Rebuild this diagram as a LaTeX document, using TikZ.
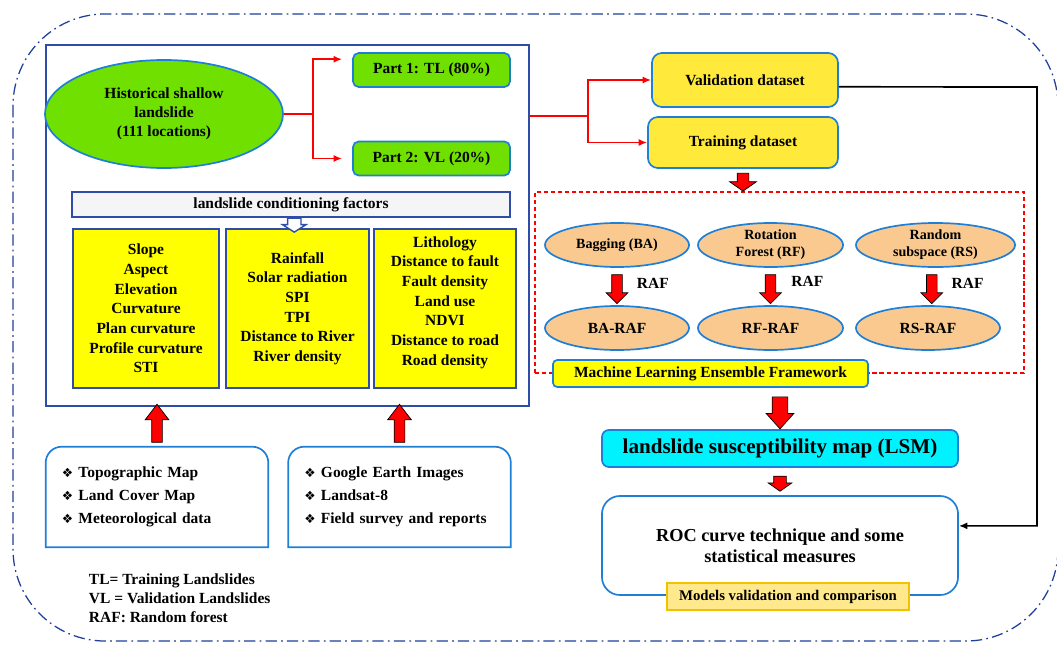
\documentclass[tikz,border=0pt]{standalone}
\usepackage{fontspec}
\setmainfont{Liberation Serif}
\newfontfamily\symfont{DejaVu Sans}
\usepackage{xcolor}
\usepackage{tikz}
\usetikzlibrary{positioning, arrows.meta, calc, shapes.geometric, shapes.arrows}
\definecolor{frameB}{HTML}{1F3F99}
\definecolor{mainB}{HTML}{2F4DA8}
\definecolor{lineB}{HTML}{1E7FD8}
\definecolor{histG}{HTML}{6FE000}
\definecolor{factY}{HTML}{FFFF00}
\definecolor{dataY}{HTML}{FFE93B}
\definecolor{ensO}{HTML}{F9C98F}
\definecolor{lsmC}{HTML}{00F2FF}
\definecolor{evalY}{HTML}{FFE98C}
\definecolor{evalB}{HTML}{F2C200}
\definecolor{condG}{HTML}{F5F5F5}
\newcommand{\itm}{{\symfont\small ❖}\ }

\begin{document}
\begin{tikzpicture}[x=0.025cm, y=-0.025cm, every node/.style={font=\fontsize{11}{13.5}\selectfont\bfseries}, outer/.style={draw=frameB, line width=0.9pt, rounded corners=2.3cm, dash pattern=on 8pt off 3pt on 1.2pt off 3pt}, mainbox/.style={draw=mainB, line width=1.2pt}, histell/.style={ellipse, draw=lineB, line width=1.2pt, fill=histG, inner sep=0pt, align=center}, partbox/.style={draw=lineB, line width=1.2pt, fill=histG, rounded corners=4pt, minimum width=3.925cm, minimum height=0.85cm}, condbar/.style={draw=mainB, line width=1.2pt, fill=condG, minimum width=10.95cm, minimum height=0.625cm}, factbox/.style={draw=mainB, line width=1.2pt, fill=factY, minimum height=3.975cm, align=center, font=\fontsize{11}{14}\selectfont\bfseries}, srcbox/.style={text width=4.75cm, inner xsep=0.4cm, minimum height=2.5cm, align=left, font=\fontsize{11}{13.5}\selectfont\bfseries}, srcln/.style={draw=lineB, line width=1.2pt}, databox/.style={draw=lineB, line width=1.2pt, fill=dataY, rounded corners=7pt}, ensbox/.style={draw=red, line width=1pt, dash pattern=on 3pt off 2pt, minimum width=12.225cm, minimum height=4.525cm}, ensell/.style={ellipse, draw=lineB, line width=1.2pt, fill=ensO, inner sep=0pt, minimum height=1.1cm, align=center, font=\fontsize{10}{12}\selectfont\bfseries}, mlbox/.style={draw=lineB, line width=1.2pt, fill=factY, rounded corners=3pt, minimum width=7.875cm, minimum height=0.675cm}, lsmbox/.style={draw=lineB, line width=1.2pt, fill=lsmC, rounded corners=5pt, minimum width=8.9cm, minimum height=0.925cm, font=\fontsize{15}{18}\selectfont\bfseries}, rocbox/.style={draw=lineB, line width=1.2pt, fill=white, rounded corners=0.45cm, minimum width=8.9cm, minimum height=2.475cm, align=center, font=\fontsize{13}{15}\selectfont\bfseries}, evalbox/.style={draw=evalB, line width=0.8pt, fill=evalY, minimum width=6.05cm, minimum height=0.675cm, font=\fontsize{10.5}{12}\selectfont\bfseries}, redblk/.style={single arrow, draw=black, fill=red, line width=0.5pt, inner xsep=0pt, minimum width=0pt}, openblk/.style={single arrow, draw=mainB, fill=white, line width=1pt, inner xsep=0pt, minimum width=0pt}, redln/.style={draw=red, line width=1.2pt}, redarr/.style={redln, -{Latex[length=6pt, width=5pt]}}, blkarr/.style={draw=black, line width=1.2pt, -{Latex[length=6pt, width=5pt]}}, raflbl/.style={font=\fontsize{11}{13.5}\selectfont\bfseries}]
\useasboundingbox (0,0) rectangle (1057,644);
\draw[outer] (13,14) rectangle (1058,641);

% left block: inventory and factors
\node[mainbox, minimum width=12.075cm, minimum height=9.025cm] (main) at (287.5,225.5) {};
\node[histell, minimum width=5.95cm, minimum height=2.7cm] (hist) at (164,114) {Historical shallow\\landslide\\(111 locations)};
\node[partbox] (part1) at (431.5,70) {Part 1: TL (80\%)};
\node[partbox] (part2) at (431.5,158.5) {Part 2: VL (20\%)};
\coordinate (hsplit) at (313,114);
\draw[redln] (hist.east) -- (hsplit);
\draw[redarr, shorten >=0.25cm] (hsplit) |- ([yshift=0.27cm]part1.west);
\draw[redarr, shorten >=0.25cm] (hsplit) |- (part2.west);
\node[condbar] (cond) at (291,204.5) {landslide conditioning factors};
\node[factbox, minimum width=3.65cm] (fac1) at (146,308.5) {Slope\\Aspect\\Elevation\\Curvature\\Plan curvature\\Profile curvature\\STI};
\node[factbox, minimum width=3.575cm] (fac2) at (297.5,308.5) {Rainfall\\Solar radiation\\SPI\\TPI\\Distance to River\\River density};
\node[factbox, minimum width=3.55cm] (fac3) at (445,308.5) {Lithology\\Distance to fault\\Fault density\\Land use\\NDVI\\Distance to road\\Road density\\[-3pt]\mbox{}};
\node[openblk, rotate=270, inner ysep=0.15cm, single arrow head extend=0.125cm, single arrow tip angle=115, minimum height=0.35cm] (condarr) at ($(cond.south)!.5!(fac2.north)$) {};

% data sources
\node[srcbox] (src1) at (157,497) {\itm Topographic Map\\[3pt]\itm Land Cover Map\\[3pt]\itm Meteorological data};
\node[srcbox] (src2) at (399.5,497) {\itm Google Earth Images\\[3pt]\itm Landsat-8\\[3pt]\itm Field survey and reports};
\draw[srcln] (src1.south west) -- ([yshift=-0.4cm]src1.north west) arc[start angle=180, end angle=90, radius=0.4cm] -- ([xshift=-0.4cm]src1.north east) arc[start angle=90, end angle=0, radius=0.4cm] -- (src1.south east) -- cycle;
\draw[srcln] (src2.south west) -- ([yshift=-0.4cm]src2.north west) arc[start angle=180, end angle=90, radius=0.4cm] -- ([xshift=-0.4cm]src2.north east) arc[start angle=90, end angle=0, radius=0.4cm] -- (src2.south east) -- cycle;
\node[redblk, rotate=90, inner ysep=0.125cm, single arrow head extend=0.1625cm, single arrow tip angle=75, minimum height=0.95cm] (up1) at ($(src1.north)!.5!(src1.north |- main.south)$) {};
\node[redblk, rotate=90, inner ysep=0.125cm, single arrow head extend=0.1625cm, single arrow tip angle=75, minimum height=0.95cm] (up2) at ($(src2.north)!.5!(src2.north |- main.south)$) {};
\node[anchor=west, align=left] (legend) at (84,598) {TL= Training Landslides\\VL = Validation Landslides\\RAF: Random forest};

% right block: models and validation
\node[databox, minimum width=4.65cm, minimum height=1.35cm] (valid) at (745,80) {Validation dataset};
\node[databox, minimum width=4.75cm, minimum height=1.275cm] (train) at (743,142.5) {Training dataset};
\coordinate (msplit) at (588,116);
\draw[redln] (main.east |- msplit) -- (msplit);
\draw[redarr] (msplit) |- (valid.west);
\draw[redarr] (msplit) |- (train.west);
\node[ensbox] (ens) at (779.5,282.5) {};
\node[redblk, rotate=270, inner ysep=0.1375cm, single arrow head extend=0.19cm, single arrow tip angle=110, minimum height=0.45cm] (trarr) at ($(train.south)!.5!(train.south |- ens.north)$) {};
\node[ensell, minimum width=3.6cm] (ba) at (617,245) {Bagging (BA)};
\node[ensell, minimum width=3.625cm] (rf) at (770.5,245) {Rotation\\Forest (RF)};
\node[ensell, minimum width=3.975cm] (rs) at (935.5,245) {Random\\subspace (RS)};
\node[ensell, minimum width=3.6cm, font=\fontsize{11}{13.5}\selectfont\bfseries] (bar) at (617,328) {BA-RAF};
\node[ensell, minimum width=3.625cm, font=\fontsize{11}{13.5}\selectfont\bfseries] (rfr) at (770.5,328) {RF-RAF};
\node[ensell, minimum width=3.6cm, font=\fontsize{11}{13.5}\selectfont\bfseries] (rsr) at (928,328) {RS-RAF};
\node[redblk, rotate=270, inner ysep=0.125cm, single arrow head extend=0.1375cm, minimum height=0.725cm] (baarr) at ($(ba.south)!.5!(bar.north)$) {};
\node[redblk, rotate=270, inner ysep=0.125cm, single arrow head extend=0.1375cm, minimum height=0.725cm] (rfarr) at ($(rf.south)!.5!(rfr.north)$) {};
\node[redblk, rotate=270, inner ysep=0.125cm, single arrow head extend=0.1375cm, minimum height=0.725cm] (rsarr) at ($(rs.south)!.5!(rsr.north)$) {};
\node[raflbl, right=0.375cm of baarr.center, anchor=west, yshift=0.09cm] {RAF};
\node[raflbl, right=0.4cm of rfarr.center, anchor=west, yshift=0.13cm] {RAF};
\node[raflbl, right=0.375cm of rsarr.center, anchor=west, yshift=0.09cm] {RAF};
\node[mlbox] (mlef) at (710.5,373.5) {Machine Learning Ensemble Framework};
\node[lsmbox] (lsm) at (780,448.5) {landslide susceptibility map (LSM)};
\node[redblk, rotate=270, inner ysep=0.1875cm, single arrow head extend=0.15cm, single arrow tip angle=84, minimum height=0.8cm] (mlarr) at ($(lsm.north |- mlef.south)!.5!(lsm.north)$) {};
\node[rocbox] (roc) at (780,545.5) {ROC curve technique and some\\statistical measures};
\node[redblk, rotate=270, inner ysep=0.15cm, single arrow head extend=0.1375cm, single arrow tip angle=110, minimum height=0.375cm] (lsmarr) at ($(lsm.south)!.5!(roc.north)$) {};
\node[evalbox] (eval) at (788,596.5) {Models validation and comparison};
\coordinate (vcorner) at (1037,87);
\draw[blkarr] ([yshift=-0.17cm]valid.east) -- (vcorner) |- ([yshift=0.49cm]roc.east);
\end{tikzpicture}
\end{document}
